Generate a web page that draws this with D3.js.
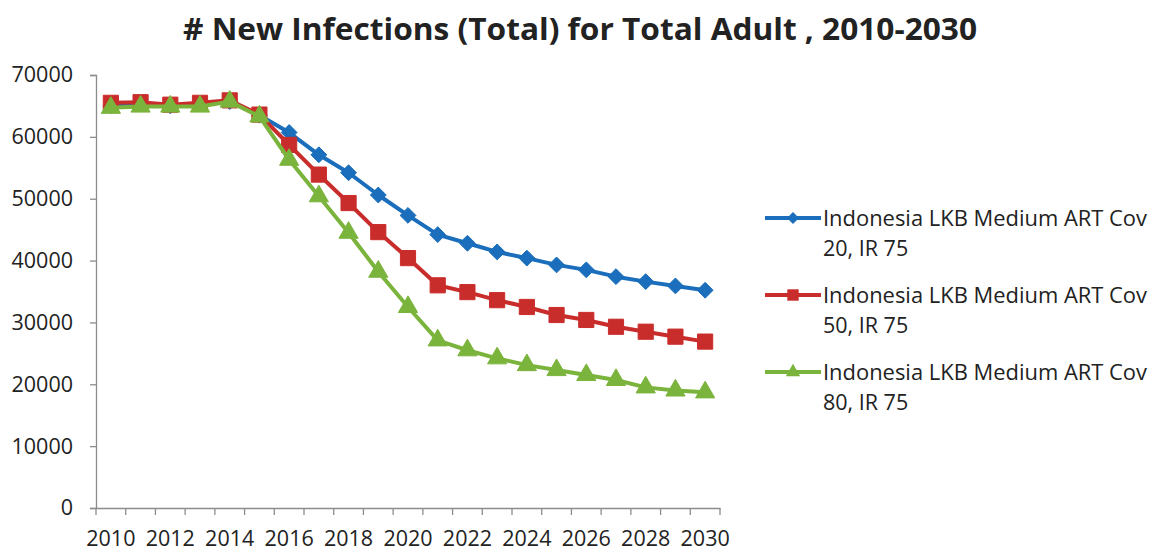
<!DOCTYPE html>
<html>
<head>
<meta charset="utf-8">
<script src="https://cdn.jsdelivr.net/npm/d3@7"></script>
<style>
  html, body { margin: 0; padding: 0; background: #ffffff; }
  svg { display: block; }
  text { font-family: "Open Sans", "DejaVu Sans", sans-serif; fill: #222; }
</style>
</head>
<body>
<svg id="chart" width="1158" height="557"></svg>
<script>
// Years on the category axis
const years = d3.range(2010, 2031);

// New adult infections per scenario
const cov20 = [65000, 65300, 65000, 65300, 65700, 63500, 60700, 57100, 54200, 50600, 47300,
               44200, 42800, 41400, 40400, 39300, 38500, 37400, 36600, 35900, 35200];
const cov50 = [65500, 65600, 65200, 65500, 65900, 63600, 58700, 53900, 49300, 44600, 40400,
               36000, 34900, 33600, 32500, 31200, 30400, 29300, 28500, 27700, 26900];
const cov80 = [64700, 64900, 64900, 64900, 65700, 63300, 56300, 50400, 44500, 38200, 32500,
               27100, 25500, 24200, 23100, 22300, 21500, 20700, 19500, 19000, 18700];

const seriesNames = [
  ["Indonesia LKB Medium ART Cov", "20, IR 75"],
  ["Indonesia LKB Medium ART Cov", "50, IR 75"],
  ["Indonesia LKB Medium ART Cov", "80, IR 75"]
];
const yTicks = [0, 10000, 20000, 30000, 40000, 50000, 60000, 70000];
const xLabelYears = years.filter(y => y % 2 === 0);

const series = [
  { values: cov20, names: seriesNames[0], color: "#1a6ebb", symbol: d3.symbolDiamond2 },
  { values: cov50, names: seriesNames[1], color: "#c92d2b", symbol: d3.symbolSquare },
  { values: cov80, names: seriesNames[2], color: "#7bb43c", symbol: d3.symbolTriangle }
];

const svg = d3.select("#chart");
const axisColor = "#8c8c8c";
const labelFont = "21.5px";

const x = d3.scaleBand().domain(years).range([96, 720]).padding(0);
const y = d3.scaleLinear().domain([0, 70000]).range([508, 75]);
const cx = d => x(d) + x.bandwidth() / 2;

// Title
svg.append("text")
  .attr("x", 580).attr("y", 40)
  .attr("text-anchor", "middle")
  .style("font-size", "30px").style("font-weight", "700")
  .attr("textLength", 794).attr("lengthAdjust", "spacingAndGlyphs")
  .text("# New Infections (Total) for Total Adult , 2010-2030");

// Y axis
const yAxis = svg.append("g")
  .attr("transform", "translate(96,0)")
  .call(d3.axisLeft(y).tickValues(yTicks).tickFormat(d3.format("d")).tickSize(6).tickPadding(17));
yAxis.select(".domain").attr("stroke", axisColor).attr("stroke-width", 1.3);
yAxis.selectAll(".tick line").attr("stroke", axisColor).attr("stroke-width", 1.3);
yAxis.selectAll("text").style("font-size", labelFont).attr("fill", "#222").style("font-family", "'Open Sans', sans-serif");

// X axis: labels on every other year, ticks on category boundaries
const xAxis = svg.append("g")
  .attr("transform", "translate(0,508)")
  .call(d3.axisBottom(x).tickValues(xLabelYears).tickSize(0).tickPadding(23));
xAxis.select(".domain").attr("stroke", axisColor).attr("stroke-width", 1.3);
xAxis.selectAll("text").style("font-size", labelFont).attr("fill", "#222").style("font-family", "'Open Sans', sans-serif");

const boundaries = years.map(d => x(d)).concat([x(years[years.length - 1]) + x.bandwidth()]);
svg.append("g").selectAll("line")
  .data(boundaries)
  .join("line")
  .attr("x1", d => d).attr("x2", d => d)
  .attr("y1", 508).attr("y2", 515)
  .attr("stroke", axisColor).attr("stroke-width", 1.3);

// Lines and markers
const line = d3.line().x((d, i) => cx(years[i])).y(d => y(d));
series.forEach(s => {
  const g = svg.append("g");
  g.append("path")
    .datum(s.values)
    .attr("d", line)
    .attr("fill", "none")
    .attr("stroke", s.color)
    .attr("stroke-width", 4)
    .attr("stroke-linejoin", "round");
  const size = s.symbol === d3.symbolSquare ? 230 : 160;
  g.selectAll("path.marker")
    .data(s.values)
    .join("path")
    .attr("class", "marker")
    .attr("transform", (d, i) => `translate(${cx(years[i])},${y(d)})`)
    .attr("d", d3.symbol().type(s.symbol).size(size))
    .attr("fill", s.color)
    .attr("stroke", s.color)
    .attr("stroke-width", 1);
});

// Legend
const legend = svg.append("g");
series.forEach((s, i) => {
  const ly = 218 + i * 77;
  const g = legend.append("g");
  g.append("line")
    .attr("x1", 765).attr("x2", 821).attr("y1", ly).attr("y2", ly)
    .attr("stroke", s.color).attr("stroke-width", 4);
  g.append("path")
    .attr("transform", `translate(793,${ly})`)
    .attr("d", d3.symbol().type(s.symbol).size(s.symbol === d3.symbolSquare ? 130 : 90))
    .attr("fill", s.color);
  g.append("text")
    .attr("x", 823).attr("y", ly + 8)
    .style("font-size", labelFont)
    .attr("textLength", 324).attr("lengthAdjust", "spacingAndGlyphs")
    .text(s.names[0]);
  g.append("text")
    .attr("x", 823).attr("y", ly + 38)
    .style("font-size", labelFont)
    .text(s.names[1]);
});
</script>
</body>
</html>
